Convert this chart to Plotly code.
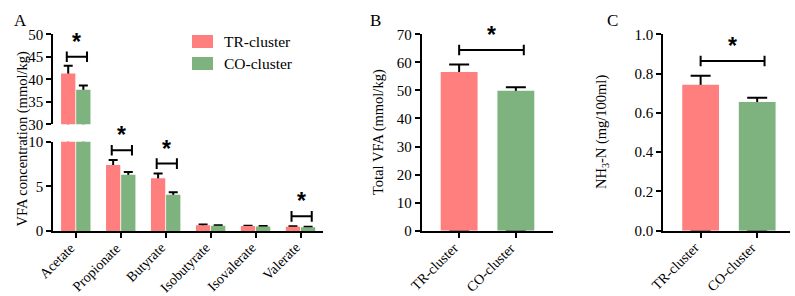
import plotly.graph_objects as go

# ---------------- data ----------------
vfa_names = ["Acetate", "Propionate", "Butyrate", "Isobutyrate", "Isovalerate", "Valerate"]
tr_vfa = [41.3, 7.4, 5.9, 0.65, 0.55, 0.48]
tr_vfa_se = [1.7, 0.55, 0.55, 0.07, 0.05, 0.06]
co_vfa = [37.7, 6.3, 4.05, 0.6, 0.5, 0.42]
co_vfa_se = [0.9, 0.3, 0.3, 0.05, 0.05, 0.05]
sig_vfa = ["Acetate", "Propionate", "Butyrate", "Valerate"]

groups = ["TR-cluster", "CO-cluster"]
total_vfa = [56.6, 49.9]
total_vfa_se = [2.6, 1.2]
nh3n = [0.743, 0.655]
nh3n_se = [0.046, 0.022]

TR_COLOR = "#FF7F7F"
CO_COLOR = "#7EB27E"
FONT = "Liberation Serif, Times New Roman, serif"
W, H = 795, 296


def px(x):
    return x / W


def py(y):
    return 1 - y / H


fig = go.Figure()

# ---------- Panel A (broken axis: bottom 0-10 on x/y, top 30-50 on x2/y2) ----------
for xa, ya in (("x", "y"), ("x2", "y2")):
    for name, vals, se in (("TR-cluster", tr_vfa, tr_vfa_se),
                           ("CO-cluster", co_vfa, co_vfa_se)):
        # error bar (drawn underneath, stem hidden by the bar)
        fig.add_trace(go.Bar(
            x=vfa_names, y=vals, xaxis=xa, yaxis=ya, offsetgroup=name,
            marker=dict(color="rgba(0,0,0,0)", line=dict(width=0)),
            error_y=dict(type="data", symmetric=False, array=se, arrayminus=vals,
                         color="black", thickness=2, width=4.5),
            showlegend=False, hoverinfo="skip"))
    for name, vals, col in (("TR-cluster", tr_vfa, TR_COLOR),
                            ("CO-cluster", co_vfa, CO_COLOR)):
        fig.add_trace(go.Bar(
            x=vfa_names, y=vals, xaxis=xa, yaxis=ya, offsetgroup=name, name=name,
            marker=dict(color=col, line=dict(width=0)), showlegend=False))

# ---------- Panel B ----------
fig.add_trace(go.Bar(
    x=groups, y=total_vfa, xaxis="x3", yaxis="y3", offsetgroup="b", width=0.65,
    marker=dict(color="rgba(0,0,0,0)", line=dict(width=0)),
    error_y=dict(type="data", symmetric=False, array=total_vfa_se, arrayminus=total_vfa,
                 color="black", thickness=2, width=10),
    showlegend=False, hoverinfo="skip"))
fig.add_trace(go.Bar(
    x=groups, y=total_vfa, xaxis="x3", yaxis="y3", offsetgroup="b", width=0.65,
    marker=dict(color=[TR_COLOR, CO_COLOR], line=dict(width=0)), showlegend=False))

# ---------- Panel C ----------
fig.add_trace(go.Bar(
    x=groups, y=nh3n, xaxis="x4", yaxis="y4", offsetgroup="c", width=0.65,
    marker=dict(color="rgba(0,0,0,0)", line=dict(width=0)),
    error_y=dict(type="data", symmetric=False, array=nh3n_se, arrayminus=nh3n,
                 color="black", thickness=2, width=10),
    showlegend=False, hoverinfo="skip"))
fig.add_trace(go.Bar(
    x=groups, y=nh3n, xaxis="x4", yaxis="y4", offsetgroup="c", width=0.65,
    marker=dict(color=[TR_COLOR, CO_COLOR], line=dict(width=0)), showlegend=False))

axis_common = dict(showline=True, linecolor="black", linewidth=2, ticks="outside",
                   tickwidth=2, ticklen=5, tickcolor="black", showgrid=False,
                   zeroline=False, automargin=False,
                   tickfont=dict(family=FONT, size=15, color="black"))

xa_dom = [px(53.3), px(323)]
fig.update_layout(
    template="none",
    width=W, height=H, margin=dict(l=0, r=0, t=0, b=0, pad=0),
    plot_bgcolor="white", paper_bgcolor="white",
    barmode="group", bargap=0.327, bargroupgap=0.056,
    font=dict(family=FONT, size=15, color="black"),
    xaxis=dict(domain=xa_dom, anchor="y", range=[-0.5, 5.5], showticklabels=False, **axis_common),
    yaxis=dict(domain=[py(231), py(141.7)], anchor="x", range=[0, 10],
               tickvals=[0, 5, 10], **axis_common),
    xaxis2=dict(domain=xa_dom, anchor="y2", range=[-0.5, 5.5], matches="x",
                visible=False, showgrid=False, automargin=False),
    yaxis2=dict(domain=[py(124.3), py(34.3)], anchor="x2", range=[30, 50],
                tickvals=[30, 35, 40, 45, 50], **axis_common),
    xaxis3=dict(domain=[px(421.7), px(553.3)], anchor="y3", range=[-0.66, 1.66],
                showticklabels=False, **axis_common),
    yaxis3=dict(domain=[py(230.7), py(34.3)], anchor="x3", range=[0, 70],
                dtick=10, **axis_common),
    xaxis4=dict(domain=[px(663.3), px(790)], anchor="y4", range=[-0.66, 1.58],
                showticklabels=False, **axis_common),
    yaxis4=dict(domain=[py(230.7), py(34.3)], anchor="x4", range=[0, 1.0],
                tickvals=[0, 0.2, 0.4, 0.6, 0.8, 1.0], ticktext=["0.0", "0.2", "0.4", "0.6", "0.8", "1.0"],
                **axis_common),
)

shapes = []
annotations = []

# Rotated category labels (placed at each category of its axis)
for xref, cats, shift in (("x", vfa_names, 4), ("x3", groups, 4), ("x4", groups, 3)):
    for c in cats:
        annotations.append(dict(xref=xref, yref="paper", x=c, y=py(239), text=c,
                                textangle=-45, showarrow=False, xanchor="right", yanchor="top",
                                xshift=shift, borderpad=0,
                                font=dict(family=FONT, size=14, color="black")))


def bracket(xref, yref, xc, y, dl, dr, cap=5.3):
    shapes.append(dict(type="line", xref=xref, yref=yref, x0=xc + dl, x1=xc + dr, y0=y, y1=y,
                       line=dict(color="black", width=2)))
    for xe in (xc + dl, xc + dr):
        shapes.append(dict(type="line", xref=xref, yref=yref, x0=xe, x1=xe,
                           ysizemode="pixel", yanchor=y, y0=-cap, y1=cap,
                           line=dict(color="black", width=2)))
    annotations.append(dict(xref=xref, yref=yref, x=xc + (dl + dr) / 2, y=y, text="<b>*</b>",
                            showarrow=False, yanchor="bottom", yshift=0,
                            font=dict(family="Liberation Sans, Arial", size=23, color="black")))


# Panel A brackets
for nm in sig_vfa:
    i = vfa_names.index(nm)
    if i == 0:
        bracket("x2", "y2", i, max(tr_vfa[i] + tr_vfa_se[i], co_vfa[i] + co_vfa_se[i]) + 2.0, -0.2, 0.25)
    else:
        bracket("x", "y", i, max(tr_vfa[i] + tr_vfa_se[i], co_vfa[i] + co_vfa_se[i]) + 1.1, -0.2, 0.25)

# Panel B / C brackets
bracket("x3", "y3", 0, max(v + s for v, s in zip(total_vfa, total_vfa_se)) + 5.2, 0, 1.14)
bracket("x4", "y4", 0, max(v + s for v, s in zip(nh3n, nh3n_se)) + 0.075, 0, 1.13)

# Legend (manual)
for i, (name, col) in enumerate(zip(groups, [TR_COLOR, CO_COLOR])):
    y0 = 35 + 22 * i
    shapes.append(dict(type="rect", xref="paper", yref="paper", x0=px(192), x1=px(213),
                       y0=py(y0 + 13), y1=py(y0), fillcolor=col, line=dict(width=0)))
    annotations.append(dict(xref="paper", yref="paper", x=px(222), y=py(y0 + 6.5), text=name,
                            showarrow=False, xanchor="left", yanchor="middle",
                            font=dict(family=FONT, size=15.5, color="black")))

# Axis titles
annotations += [
    dict(xref="paper", yref="paper", x=px(12), y=py(139), text="VFA concentration (mmol/kg)",
         textangle=-90, showarrow=False, font=dict(family=FONT, size=14.5, color="black")),
    dict(xref="paper", yref="paper", x=px(378), y=py(132), text="Total VFA (mmol/kg)",
         textangle=-90, showarrow=False, font=dict(family=FONT, size=14.5, color="black")),
    dict(xref="paper", yref="paper", x=px(613), y=py(132), text="NH<sub>3</sub>-N (mg/100ml)",
         textangle=-90, showarrow=False, font=dict(family=FONT, size=14.5, color="black")),
]
# Panel letters
for letter, x in (("A", 12), ("B", 375), ("C", 620)):
    annotations.append(dict(xref="paper", yref="paper", x=px(x), y=py(9), text=letter,
                            showarrow=False, font=dict(family=FONT, size=17, color="black")))

fig.update_layout(shapes=shapes, annotations=annotations)
fig.write_html("out.html")
